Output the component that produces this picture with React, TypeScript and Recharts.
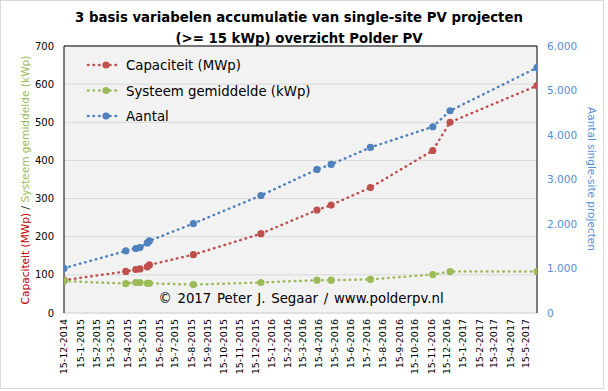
import React from "react";
import {
  LineChart,
  Line,
  XAxis,
  YAxis,
  CartesianGrid,
  ReferenceLine,
  Legend,
} from "recharts";

// measurement dates (yyyy-mm-dd)
const dates = [
  "2014-12-15", "2015-04-12", "2015-05-01", "2015-05-09", "2015-05-23",
  "2015-05-27", "2015-08-19", "2015-12-26", "2016-04-11", "2016-05-08",
  "2016-07-22", "2016-11-18", "2016-12-21", "2017-06-05",
];
const capaciteit = [86, 109, 114, 115.5, 121, 126, 153, 208, 270, 283, 329, 426, 500, 596];
const gemiddelde = [84, 77, 80, 80, 78, 78, 74.5, 80, 86, 86, 88, 101, 108.5, 108.5];
const aantal = [1006, 1395, 1449, 1471, 1575, 1620, 2011, 2641, 3226, 3339, 3721, 4185, 4545, 5512];

const xTickLabels = [
  "15-12-2014", "15-1-2015", "15-2-2015", "15-3-2015", "15-4-2015", "15-5-2015",
  "15-6-2015", "15-7-2015", "15-8-2015", "15-9-2015", "15-10-2015", "15-11-2015",
  "15-12-2015", "15-1-2016", "15-2-2016", "15-3-2016", "15-4-2016", "15-5-2016",
  "15-6-2016", "15-7-2016", "15-8-2016", "15-9-2016", "15-10-2016", "15-11-2016",
  "15-12-2016", "15-1-2017", "15-2-2017", "15-3-2017", "15-4-2017", "15-5-2017",
];
const leftTicks = [0, 100, 200, 300, 400, 500, 600, 700];
const rightTicks = [0, 1000, 2000, 3000, 4000, 5000, 6000];

const FONT = "'DejaVu Sans', Verdana, sans-serif";
const RED = "#C0504D";
const GREEN = "#9BBB59";
const BLUE = "#4F81BD";
const AXIS_BLUE = "#558ED5";

const toDay = (y: number, m: number, d: number) => Date.UTC(y, m - 1, d) / 86400000;
const isoDay = (s: string) => {
  const [y, m, d] = s.split("-").map(Number);
  return toDay(y, m, d);
};
const labelDay = (s: string) => {
  const [d, m, y] = s.split("-").map(Number);
  return toDay(y, m, d);
};

const data = dates.map((d, i) => ({
  t: isoDay(d),
  cap: capaciteit[i],
  avg: gemiddelde[i],
  cnt: aantal[i],
}));
const xTicks = xTickLabels.map(labelDay);
const tickLabel = new Map(xTicks.map((t, i) => [t, xTickLabels[i]]));
const fmtThousands = (v: number) => String(v).replace(/\B(?=(\d{3})+(?!\d))/g, ".");

const series = [
  { key: "cap", name: "Capaciteit (MWp)", color: RED, axis: "left" },
  { key: "avg", name: "Systeem gemiddelde (kWp)", color: GREEN, axis: "left" },
  { key: "cnt", name: "Aantal", color: BLUE, axis: "right" },
];

const DOTTED = { strokeWidth: 2.5, strokeDasharray: "0.5 5", strokeLinecap: "round" as const };

const XTick = (props: any) => {
  const { x, y, payload } = props;
  return (
    <text
      x={x}
      y={y}
      transform={`rotate(-90 ${x} ${y})`}
      textAnchor="end"
      dy="0.35em"
      fontSize={9.5}
      fontFamily={FONT}
      fill="#000"
    >
      {tickLabel.get(payload.value)}
    </text>
  );
};

const makeDot = (color: string) => (p: any) => (
  <circle key={`dot-${p.index}`} cx={p.cx} cy={p.cy} r={3.6} fill={color} stroke="none" />
);

const LegendBox = () => (
  <svg width={280} height={80} style={{ fontFamily: FONT }}>
    {series.map((s, i) => {
      const y = 8 + i * 25.5;
      return (
        <g key={s.key}>
          <line x1={4} x2={36} y1={y} y2={y} stroke={s.color} {...DOTTED} />
          <circle cx={22} cy={y} r={3.6} fill={s.color} />
          <text x={42} y={y + 5} fontSize={13.3} fill="#000">
            {s.name}
          </text>
        </g>
      );
    })}
  </svg>
);

export default function App() {
  return (
    <div style={{ position: "absolute", left: 0, top: 0, width: 608, height: 391, background: "#fff" }}>
      <div
        style={{
          position: "absolute",
          left: 0,
          top: 0,
          width: 602,
          height: 387,
          border: "1px solid #D9D9D9",
        }}
      />
      <div style={{ position: "absolute", left: 0, top: 0 }}>
        <LineChart
          width={608}
          height={391}
          data={data}
          margin={{ top: 46, right: 0, bottom: 0, left: 0 }}
        >
          <CartesianGrid
            yAxisId="left"
            vertical={false}
            stroke="#D9D9D9"
            fill="#F2F2F2"
            strokeWidth={1}
          />
          <XAxis
            dataKey="t"
            type="number"
            domain={[data[0].t, data[data.length - 1].t]}
            ticks={xTicks}
            interval={0}
            height={78}
            tick={<XTick />}
            tickLine={false}
            tickSize={0}
            tickMargin={6}
            axisLine={{ stroke: "#D9D9D9" }}
            allowDataOverflow
          />
          <YAxis
            yAxisId="left"
            orientation="left"
            width={64}
            domain={[0, 700]}
            ticks={leftTicks}
            interval={0}
            tickLine={false}
            tickSize={0}
            tickMargin={10}
            axisLine={{ stroke: "#000" }}
            tick={{ fontSize: 10, fill: "#000", fontFamily: FONT }}
          />
          <YAxis
            yAxisId="right"
            orientation="right"
            width={71}
            domain={[0, 6000]}
            ticks={rightTicks}
            interval={0}
            tickLine={false}
            tickSize={0}
            tickMargin={10}
            axisLine={{ stroke: "#000" }}
            tickFormatter={fmtThousands}
            tick={{ fontSize: 10.5, fill: AXIS_BLUE, fontFamily: FONT }}
          />
          <ReferenceLine yAxisId="left" y={700} stroke="#000" ifOverflow="extendDomain" />
          <Legend
            layout="horizontal"
            verticalAlign="middle"
            align="center"
            content={<LegendBox />}
            wrapperStyle={{ position: "absolute", left: 84, top: 57, width: 280, height: 80 }}
          />
          {series.map((s) => (
            <Line
              key={s.key}
              yAxisId={s.axis}
              dataKey={s.key}
              name={s.name}
              type="linear"
              stroke={s.color}
              {...DOTTED}
              dot={makeDot(s.color)}
              activeDot={false}
              isAnimationActive={false}
            />
          ))}
        </LineChart>
      </div>
      <svg
        width={608}
        height={391}
        style={{ position: "absolute", left: 0, top: 0, pointerEvents: "none", fontFamily: FONT }}
      >
        <text x={299} y={22} textAnchor="middle" fontSize={13.3} fontWeight="bold" fill="#000">
          3 basis variabelen accumulatie van single-site PV projecten
        </text>
        <text x={299} y={42.5} textAnchor="middle" fontSize={13.3} fontWeight="bold" fill="#000">
          (&gt;= 15 kWp) overzicht Polder PV
        </text>
        <text x={301} y={303} textAnchor="middle" fontSize={13.3} wordSpacing={1.5} fill="#000">
          © 2017 Peter J. Segaar / www.polderpv.nl
        </text>
        <text
          x={29}
          y={180}
          transform="rotate(-90 29 180)"
          textAnchor="middle"
          fontSize={10.6}
        >
          <tspan fill="#C00000">Capaciteit (MWp)</tspan>
          <tspan fill="#000"> / </tspan>
          <tspan fill={GREEN}>Systeem gemiddelde (kWp)</tspan>
        </text>
        <text
          x={588}
          y={179}
          transform="rotate(90 588 179)"
          textAnchor="middle"
          fontSize={10.5}
          fill={AXIS_BLUE}
        >
          Aantal single-site projecten
        </text>
      </svg>
    </div>
  );
}
